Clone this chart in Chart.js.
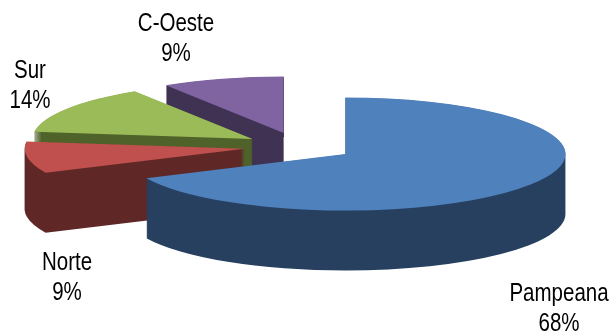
<!DOCTYPE html>
<html><head><meta charset="utf-8">
<script src="https://cdn.jsdelivr.net/npm/chart.js@4.4.1/dist/chart.umd.min.js"></script>
<style>html,body{margin:0;padding:0;background:#fff;} canvas{display:block}</style>
</head><body>
<canvas id="c" width="611" height="334"></canvas>
<script>
// ---- data ----
const categories = ['Pampeana', 'Norte', 'Sur', 'C-Oeste'];
const shares = [68, 9, 14, 9];
const total = shares.reduce((s, v) => s + v, 0);
const pctLabels = shares.map(v => Math.round(v / total * 100) + '%');

// ---- styles / layout ----
const topColors = ['#4f81bd', '#c0504d', '#9bbb59', '#8064a2'];
const sideColors = ['#27405f', '#5f2826', '#4e6229', '#3f3253'];
const VIEW = {cx: 299, cy: 146.5, tilt: 0.257, depth: 60, explode: 55, radius: 220};
const LABEL_POS = [{x: 559, y: 301}, {x: 67, y: 270}, {x: 30, y: 78}, {x: 176, y: 31}];
const LINE_H = 30;
const TEXT_SQUEEZE = 0.82;
const FONT = '25px "Liberation Sans Narrow", "Arial Narrow", "Liberation Sans", Arial, sans-serif';

const pie3d = {
  id: 'pie3d',
  beforeDatasetsDraw(chart) {
    const ctx = chart.ctx;
    const base = ctx.getTransform();
    const meta = chart.getDatasetMeta(0);
    const arcs = meta.data.map((arc, i) => {
      const p = arc.getProps(['x', 'y', 'startAngle', 'endAngle', 'outerRadius']);
      const mid = (p.startAngle + p.endAngle) / 2;
      return {arc, i, p, ex: Math.cos(mid) * VIEW.explode, ey: Math.sin(mid) * VIEW.explode};
    });
    arcs.sort((a, b) => a.ey - b.ey);
    const setT = (a, dy) => {
      ctx.setTransform(base);
      ctx.translate(VIEW.cx, VIEW.cy + dy);
      ctx.scale(1, VIEW.tilt);
      ctx.translate(-a.p.x + a.ex, -a.p.y + a.ey);
    };
    for (const a of arcs) {
      ctx.save();
      // side wall: union of stacked copies of the slice, filled once (no seams)
      ctx.beginPath();
      for (let d = VIEW.depth; d >= 0.5; d -= 0.5) {
        setT(a, d);
        ctx.moveTo(a.p.x, a.p.y);
        ctx.arc(a.p.x, a.p.y, a.p.outerRadius, a.p.startAngle, a.p.endAngle);
        ctx.closePath();
      }
      ctx.setTransform(base);
      ctx.fillStyle = sideColors[a.i];
      ctx.fill('nonzero');
      // top face: the library's own arc element
      setT(a, 0);
      a.arc.draw(ctx);
      ctx.restore();
    }
    ctx.setTransform(base);
    return false;
  },
  afterDraw(chart) {
    const ctx = chart.ctx;
    ctx.save();
    ctx.font = FONT;
    ctx.fillStyle = '#000';
    ctx.textAlign = 'center';
    ctx.textBaseline = 'alphabetic';
    categories.forEach((c, i) => {
      const pos = LABEL_POS[i];
      ctx.save();
      ctx.translate(pos.x, pos.y);
      ctx.scale(TEXT_SQUEEZE, 1);
      ctx.fillText(c, 0, 0);
      ctx.fillText(pctLabels[i], 0, LINE_H);
      ctx.restore();
    });
    ctx.restore();
  }
};

new Chart(document.getElementById('c'), {
  type: 'pie',
  data: {
    labels: categories,
    datasets: [{
      data: shares,
      backgroundColor: topColors,
      borderWidth: 0,
      radius: VIEW.radius,
      clip: false
    }]
  },
  options: {
    responsive: false,
    animation: false,
    events: [],
    rotation: 0,
    plugins: {legend: {display: false}, tooltip: {enabled: false}}
  },
  plugins: [pie3d]
});
</script>
</body></html>
